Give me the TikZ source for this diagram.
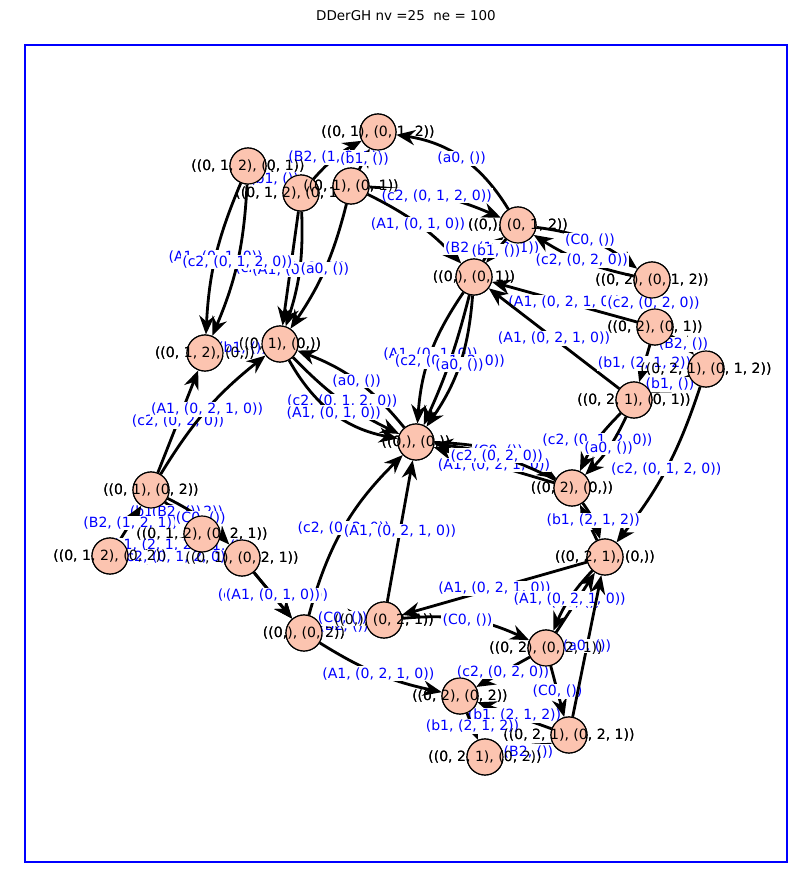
\documentclass[tikz,border=0pt]{standalone}
\usepackage{fontspec}
\setmainfont{DejaVu Sans}
\usetikzlibrary{arrows.meta}
\definecolor{nodefill}{RGB}{252,196,176}
\begin{document}
\begin{tikzpicture}[x=0.03cm,y=-0.03cm,
  st/.style={circle,draw=black,line width=1pt,fill=nodefill,minimum size=1.08cm,inner sep=0pt,
    label={[font=\fontsize{12}{14}\selectfont,text=black,fill=none]center:#1}},
  e/.style={draw=black,line width=2.4pt,-{Stealth[length=16pt,width=13pt]}},
  lbl/.style={font=\fontsize{12}{14}\selectfont,text=blue,fill=white,inner sep=1pt}]
\useasboundingbox (0,0) rectangle (812,889);
\node[font=\fontsize{11.5}{13}\selectfont] (title) at (406,16) {DDerGH nv =25\ \ ne = 100};
\draw[blue,line width=1.3pt] (25,45) rectangle (787,862);
\path
 (378,132) coordinate (A) (248,166) coordinate (B) (301,193) coordinate (C)
 (351,186) coordinate (D) (518,225) coordinate (E) (474,277) coordinate (F)
 (652,280) coordinate (G) (655,327) coordinate (H) (706,369) coordinate (I)
 (634,400) coordinate (J) (280,344) coordinate (K) (205,353) coordinate (L)
 (416,442) coordinate (M) (572,488) coordinate (N) (151,490) coordinate (O)
 (202,534) coordinate (P) (110,556) coordinate (Q) (242,558) coordinate (R)
 (605,557) coordinate (S) (384,620) coordinate (T) (304,633) coordinate (U)
 (546,648) coordinate (V) (460,696) coordinate (W) (569,735) coordinate (X)
 (485,757) coordinate (Y);
\def\nodelist{A/{((0, 1), (0, 1, 2))},B/{((0, 1, 2), (0, 1))},C/{((0, 1, 2), (0, 1, 2))},
 D/{((0, 1), (0, 1))},E/{((0,), (0, 1, 2))},F/{((0,), (0, 1))},G/{((0, 2), (0, 1, 2))},
 H/{((0, 2), (0, 1))},I/{((0, 2, 1), (0, 1, 2))},J/{((0, 2, 1), (0, 1))},K/{((0, 1), (0,))},
 L/{((0, 1, 2), (0,))},M/{((0,), (0,))},N/{((0, 2), (0,))},O/{((0, 1), (0, 2))},
 P/{((0, 1, 2), (0, 2, 1))},Q/{((0, 1, 2), (0, 2))},R/{((0, 1), (0, 2, 1))},
 S/{((0, 2, 1), (0,))},T/{((0,), (0, 2, 1))},U/{((0,), (0, 2))},V/{((0, 2), (0, 2, 1))},
 W/{((0, 2), (0, 2))},X/{((0, 2, 1), (0, 2, 1))},Y/{((0, 2, 1), (0, 2))}}
\foreach \n/\t in \nodelist {\node[st=\t] (n\n) at (\n) {};}
\path[e] (nE) to[bend right=25] node[lbl]{(a0, ())} (nA);
\path[e] (nC) to[bend left=10] node[lbl]{(B2, (1, 2, 1))} (nA);
\path[e] (nB) to node[lbl]{(b1, ())} (nC);
\path[e] (nD) to node[lbl]{(b1, ())} (nA);
\path[e] (nD) to[bend left=10] node[lbl]{(c2, (0, 1, 2, 0))} (nE);
\path[e] (nD) to[bend left=10] node[lbl]{(A1, (0, 1, 0))} (nF);
\path[e] (nF) to[bend left=10] node[lbl]{(B2, (1, 2, 1))} (nE);
\path[e] (nE) to[bend left=15] node[lbl]{(C0, ())} (nG);
\path[e] (nG) to[bend left=10] node[lbl]{(c2, (0, 2, 0))} (nE);
\path[e] (nH) to node[lbl]{(A1, (0, 2, 1, 0))} (nF);
\path[e] (nE) to node[lbl]{(b1, ())} (nF);
\path[e] (nB) to[bend right=10] node[lbl]{(A1, (0, 1, 0))} (nL);
\path[e] (nC) to node[lbl]{(c2, (0, 1, 2, 0))} (nK);
\path[e] (nC) to[bend left=10] node[lbl]{(A1, (0, 1, 0))} (nK);
\path[e] (nB) to[bend left=10] node[lbl]{(c2, (0, 1, 2, 0))} (nL);
\path[e] (nD) to[bend left=10] node[lbl]{(a0, ())} (nK);
\path[e] (nK) to node[lbl]{(B2, (1, 2, 1))} (nL);
\path[e] (nL) to node[lbl]{(b1, ())} (nK);
\path[e] (nM) to[bend right=15] node[lbl]{(a0, ())} (nK);
\path[e] (nO) to node[lbl]{(c2, (0, 2, 0))} (nL);
\path[e] (nK) to[bend right=10] node[lbl]{(c2, (0, 1, 2, 0))} (nM);
\path[e] (nK) to[bend right=25] node[lbl]{(A1, (0, 1, 0))} (nM);
\path[e] (nF) to[bend right=15] node[lbl]{(A1, (0, 1, 0))} (nM);
\path[e] (nF) to[bend left=5] node[lbl]{(c2, (0, 1, 2, 0))} (nM);
\path[e] (nF) to[bend left=15] node[lbl]{(a0, ())} (nM);
\path[e] (nJ) to node[lbl]{(A1, (0, 2, 1, 0))} (nF);
\path[e] (nH) to[bend left=10] node[lbl]{(B2, ())} (nI);
\path[e] (nH) to node[lbl]{(b1, (2, 1, 2))} (nJ);
\path[e] (nI) to node[lbl]{(b1, ())} (nJ);
\path[e] (nG) to node[lbl]{(c2, (0, 2, 0))} (nH);
\path[e] (nJ) to[bend right=10] node[lbl]{(c2, (0, 1, 2, 0))} (nN);
\path[e] (nJ) to[bend left=10] node[lbl]{(a0, ())} (nN);
\path[e] (nM) to[bend left=15] node[lbl]{(C0, ())} (nN);
\path[e] (nI) to[bend left=10] node[lbl]{(c2, (0, 1, 2, 0))} (nS);
\path[e] (nN) to node[lbl]{(A1, (0, 2, 1, 0))} (nM);
\path[e] (nN) to[bend right=10] node[lbl]{(c2, (0, 2, 0))} (nM);
\path[e] (nS) to node[lbl]{(B2, ())} (nN);
\path[e] (nN) to[bend left=10] node[lbl]{(b1, (2, 1, 2))} (nS);
\path[e] (nS) to node[lbl]{(A1, (0, 2, 1, 0))} (nT);
\path[e] (nU) to[bend left=15] node[lbl]{(c2, (0, 2, 0))} (nM);
\path[e] (nT) to node[lbl]{(A1, (0, 2, 1, 0))} (nM);
\path[e] (nV) to node[lbl]{(C0, ())} (nS);
\path[e] (nT) to[bend left=15] node[lbl]{(C0, ())} (nV);
\path[e] (nV) to node[lbl]{(c2, (0, 2, 0))} (nW);
\path[e] (nU) to[bend right=10] node[lbl]{(A1, (0, 2, 1, 0))} (nW);
\path[e] (nX) to node[lbl]{(b1, (2, 1, 2))} (nW);
\path[e] (nW) to node[lbl]{(b1, (2, 1, 2))} (nY);
\path[e] (nY) to[bend right=10] node[lbl]{(B2, ())} (nX);
\path[e] (nV) to node[lbl]{(C0, ())} (nX);
\path[e] (nR) to node[lbl]{(c2, (0, 1, 2, 0))} (nU);
\path[e] (nU) to node[lbl]{(B2, ())} (nT);
\path[e] (nU) to[bend left=15] node[lbl]{(C0, ())} (nT);
\path[e] (nO) to[bend left=10] node[lbl]{(A1, (0, 2, 1, 0))} (nK);
\path[e] (nO) to node[lbl]{(b1, (2, 1, 2))} (nP);
\path[e] (nP) to node[lbl]{(B2, ())} (nO);
\path[e] (nQ) to node[lbl]{(B2, (1, 2, 1))} (nO);
\path[e] (nP) to node[lbl]{(b1, ())} (nR);
\path[e] (nP) to node[lbl]{(b1, (2, 1, 2))} (nQ);
\path[e] (nR) to node[lbl]{(c2, (0, 1, 2, 0))} (nQ);
\path[e] (nR) to node[lbl]{(A1, (0, 1, 0))} (nU);
\path[e] (nO) to[bend left=10] node[lbl]{(C0, ())} (nR);
\path[e] (nS) to[bend right=10] node[lbl]{(A1, (0, 2, 1, 0))} (nV);
\path[e] (nX) to node[lbl]{(a0, ())} (nS);
\foreach \n/\t in \nodelist {\node[st=\t] at (\n) {};}
\end{tikzpicture}
\end{document}
